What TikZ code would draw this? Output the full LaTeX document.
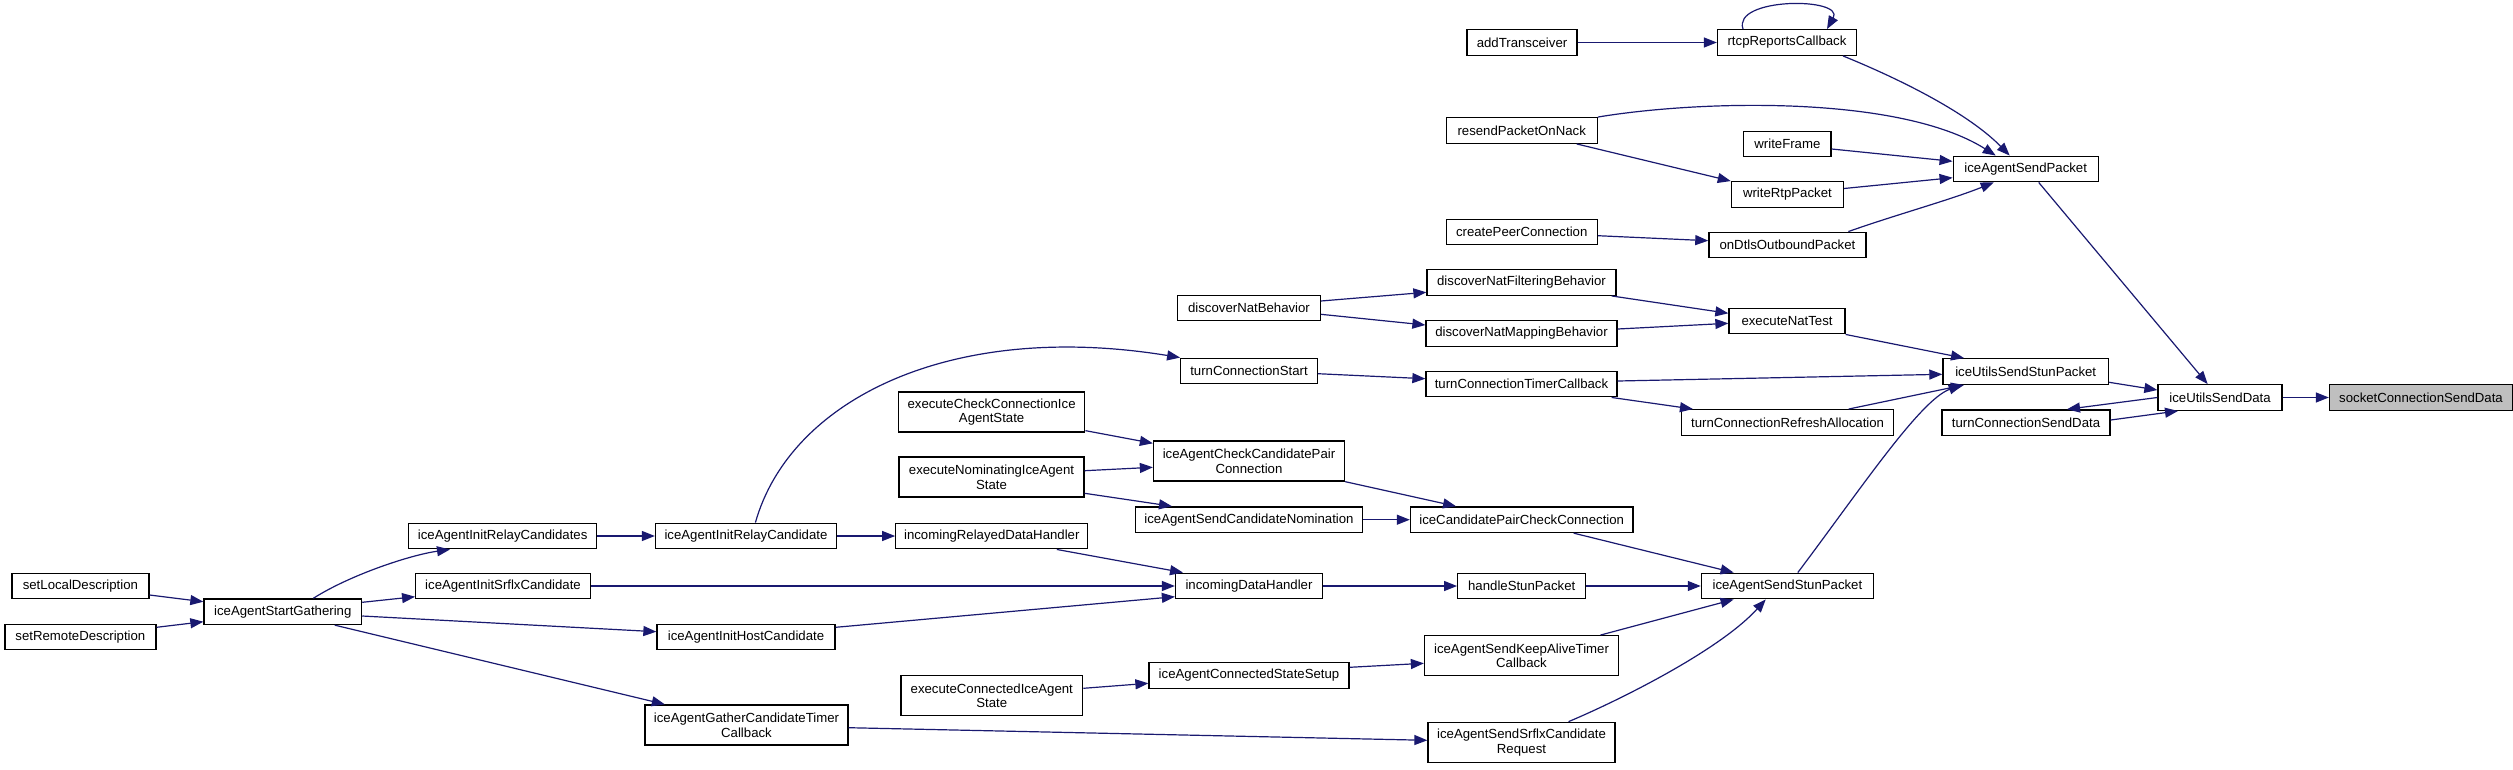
\documentclass[tikz,border=0pt]{standalone}
\usepackage{fontspec}
\setmainfont{Liberation Sans}
\usetikzlibrary{arrows.meta}
\definecolor{edgeblue}{RGB}{25,25,112}
\definecolor{targetgrey}{RGB}{191,191,191}
\begin{document}
\begin{tikzpicture}[x=1pt,y=-1pt,
  fn/.style={draw=black, line width=1.3pt, fill=white, inner sep=0pt, minimum height=25.6pt, align=center, font=\fontsize{13.2}{14.6}\selectfont},
  fn2/.style={fn, minimum height=40pt},
  target/.style={fill=targetgrey},
  e/.style={draw=edgeblue, line width=1.2pt, -{Triangle[length=13pt,width=10pt]}}]
\useasboundingbox (0,0) rectangle (2513,769);
\fill[white] (0,0) rectangle (2513,769);
% nodes
\node[fn, minimum width=110pt] (addT) at (1522,42.5) {addTransceiver};
\node[fn, minimum width=139pt] (rtcp) at (1787,42.5) {rtcpReportsCallback};
\node[fn, minimum width=151pt] (resend) at (1521.7,130.5) {resendPacketOnNack};
\node[fn, minimum width=87.3pt] (wframe) at (1787.4,144) {writeFrame};
\node[fn, minimum width=145pt] (iasp) at (2025.7,169) {iceAgentSendPacket};
\node[fn, minimum width=112pt] (wrtp) at (1787.4,194.5) {writeRtpPacket};
\node[fn, minimum width=151pt] (cpc) at (1521.7,232) {createPeerConnection};
\node[fn, minimum width=157pt] (dtls) at (1787.4,245) {onDtlsOutboundPacket};
\node[fn, minimum width=189pt] (dnfb) at (1521.5,282.5) {discoverNatFilteringBehavior};
\node[fn, minimum width=142.5pt] (dnb) at (1249,308) {discoverNatBehavior};
\node[fn, minimum width=191pt] (dnmb) at (1521.5,333.5) {discoverNatMappingBehavior};
\node[fn, minimum width=116pt] (ent) at (1787,321) {executeNatTest};
\node[fn, minimum width=136.5pt] (tcs) at (1249,371) {turnConnectionStart};
\node[fn, minimum width=191pt] (tctc) at (1521.5,384) {turnConnectionTimerCallback};
\node[fn, minimum width=165.5pt] (iussp) at (2025.7,371.5) {iceUtilsSendStunPacket};
\node[fn, minimum width=124pt] (iusd) at (2220,397.5) {iceUtilsSendData};
\node[fn, target, minimum width=183pt] (scsd) at (2421,397.5) {socketConnectionSendData};
\node[fn, minimum width=212pt] (tcra) at (1787.6,422.5) {turnConnectionRefreshAllocation};
\node[fn, minimum width=168pt] (tcsd) at (2026,422.7) {turnConnectionSendData};
\node[fn2, minimum width=186.4pt] (ecc) at (991.6,412) {executeCheckConnectionIce\\AgentState};
\node[fn2, minimum width=191pt] (iaccp) at (1249,461) {iceAgentCheckCandidatePair\\Connection};
\node[fn2, minimum width=185pt] (enom) at (991.5,477) {executeNominatingIceAgent\\State};
\node[fn, minimum width=226.6pt] (iascn) at (1249,519.7) {iceAgentSendCandidateNomination};
\node[fn, minimum width=222.5pt] (icpcc) at (1521.7,519.7) {iceCandidatePairCheckConnection};
\node[fn, minimum width=192pt] (irdh) at (991.8,536) {incomingRelayedDataHandler};
\node[fn, minimum width=147pt] (idh) at (1249,586) {incomingDataHandler};
\node[fn, minimum width=128pt] (hsp) at (1521.7,586) {handleStunPacket};
\node[fn, minimum width=172pt] (iassp) at (1787.4,586) {iceAgentSendStunPacket};
\node[fn2, minimum width=194pt] (iaskat) at (1521.5,655.7) {iceAgentSendKeepAliveTimer\\Callback};
\node[fn, minimum width=200pt] (iacss) at (1249,675.5) {iceAgentConnectedStateSetup};
\node[fn2, minimum width=181.7pt] (ecias) at (991.8,695.7) {executeConnectedIceAgent\\State};
\node[fn2, minimum width=187pt] (iassr) at (1521.5,742.3) {iceAgentSendSrflxCandidate\\Request};
\node[fn, minimum width=137pt] (sld) at (80.4,586) {setLocalDescription};
\node[fn, minimum width=151pt] (srd) at (80.4,637) {setRemoteDescription};
\node[fn, minimum width=157.6pt] (iasg) at (282.8,611.7) {iceAgentStartGathering};
\node[fn, minimum width=188pt] (iircs) at (502.7,536) {iceAgentInitRelayCandidates};
\node[fn, minimum width=174.6pt] (iisc) at (503,586) {iceAgentInitSrflxCandidate};
\node[fn, minimum width=181pt] (iirc) at (746,536) {iceAgentInitRelayCandidate};
\node[fn, minimum width=178pt] (iihc) at (746,637) {iceAgentInitHostCandidate};
\node[fn2, minimum width=203pt] (iagct) at (746.5,725) {iceAgentGatherCandidateTimer\\Callback};
% edges
\draw[e] (addT) -- (rtcp);
\draw[e] ([xshift=-44pt]rtcp.north) .. controls (1732,-3) and (1845,-3) .. ([xshift=40pt]rtcp.north);
\draw[e] ([xshift=56pt]rtcp.south) .. controls (1890,75) and (1965,110) .. ([xshift=-16pt]iasp.north);
\draw[e] (resend.north east) .. controls (1700,100) and (1900,95) .. ([xshift=-30pt]iasp.north);
\draw[e] ([xshift=55pt]resend.south) -- (wrtp.north west);
\draw[e] ([yshift=-5pt]wframe.east) -- ([yshift=7.7pt]iasp.west);
\draw[e] ([yshift=6pt]wrtp.east) -- ([yshift=-8.7pt]iasp.west);
\draw[e] ([yshift=-3.7pt]cpc.east) -- ([yshift=4.3pt]dtls.west);
\draw[e] ([xshift=61pt]dtls.north) .. controls (1895,215) and (1950,200) .. ([xshift=-32pt]iasp.south);
\draw[e] ([xshift=13pt]iasp.south) -- ([xshift=-12.4pt]iusd.north);
\draw[e] ([yshift=7pt]dnb.east) -- ([yshift=-9.8pt]dnfb.west);
\draw[e] ([yshift=-6.3pt]dnb.east) -- ([yshift=8.5pt]dnmb.west);
\draw[e] ([xshift=-5pt]dnfb.south east) -- ([yshift=7.7pt]ent.west);
\draw[e] ([yshift=4.5pt]dnmb.east) -- ([yshift=-2.3pt]ent.west);
\draw[e] (ent.south east) -- ([xshift=-61.7pt]iussp.north);
\draw[e] ([yshift=-2.7pt]tcs.east) -- ([yshift=5.3pt]tctc.west);
\draw[e] ([yshift=3pt]tctc.east) -- ([yshift=-2.8pt]iussp.west);
\draw[e] ([xshift=-6pt]tctc.south east) -- ([xshift=12pt]tcra.north west);
\draw[e] ([xshift=61pt]tcra.north) -- ([xshift=-61.7pt]iussp.south);
\draw[e] ([yshift=-10.8pt]iussp.east) -- ([yshift=7.5pt]iusd.west);
\draw[e] (iusd) -- (scsd);
\draw[e] (iusd.west) -- ([xshift=41pt]tcsd.north);
\draw[e] ([yshift=2.7pt]tcsd.east) -- ([xshift=-42pt]iusd.south);
\draw[e] ([xshift=10.4pt]iassp.north) .. controls (1860,490) and (1920,400) .. ([xshift=-64pt]iussp.south);
\draw[e] ([yshift=2pt]ecc.south east) -- ([yshift=17.7pt]iaccp.west);
\draw[e] ([yshift=6.3pt]enom.east) -- ([yshift=-6.3pt]iaccp.west);
\draw[e] ([yshift=-16.3pt]enom.east) -- ([xshift=-77pt]iascn.north);
\draw[e] (iaccp.south east) -- ([xshift=-65.7pt]icpcc.north);
\draw[e] (iascn) -- (icpcc);
\draw[e] ([xshift=52pt]icpcc.south) -- ([xshift=-53.8pt]iassp.north);
\draw[e] ([xshift=65pt]irdh.south) -- ([xshift=-66pt]idh.north);
\draw[e] (idh) -- (hsp);
\draw[e] (hsp) -- (iassp);
\draw[e] ([xshift=79pt]iaskat.north) -- ([xshift=-53.8pt]iassp.south);
\draw[e] ([xshift=47pt]iassr.north) .. controls (1620,700) and (1720,650) .. ([xshift=-21.7pt]iassp.south);
\draw[e] ([yshift=7.4pt]ecias.east) -- ([yshift=-7.8pt]iacss.west);
\draw[e] ([yshift=8.2pt]iacss.east) -- ([yshift=-7.6pt]iaskat.west);
\draw[e] ([yshift=-9pt]sld.east) -- ([yshift=10pt]iasg.west);
\draw[e] ([yshift=9.7pt]srd.east) -- ([yshift=-10pt]iasg.west);
\draw[e] ([xshift=30.6pt]iasg.north) .. controls (350,575) and (410,555) .. ([xshift=-52.7pt]iircs.south);
\draw[e] ([yshift=9.4pt]iasg.east) -- ([yshift=-10.7pt]iisc.west);
\draw[e] ([yshift=-4.3pt]iasg.east) -- ([yshift=5.3pt]iihc.west);
\draw[e] ([xshift=52pt]iasg.south) -- ([xshift=-81.7pt]iagct.north);
\draw[e] (iircs) -- (iirc);
\draw[e] ([xshift=9.4pt]iirc.north) .. controls (790,400) and (950,320) .. (tcs.north west);
\draw[e] (iirc) -- (irdh);
\draw[e] (iisc) -- (idh);
\draw[e] ([yshift=9.7pt]iihc.east) -- ([yshift=-10.7pt]idh.west);
\draw[e] ([yshift=-2.7pt]iagct.east) -- ([yshift=2pt]iassr.west);
\end{tikzpicture}
\end{document}
